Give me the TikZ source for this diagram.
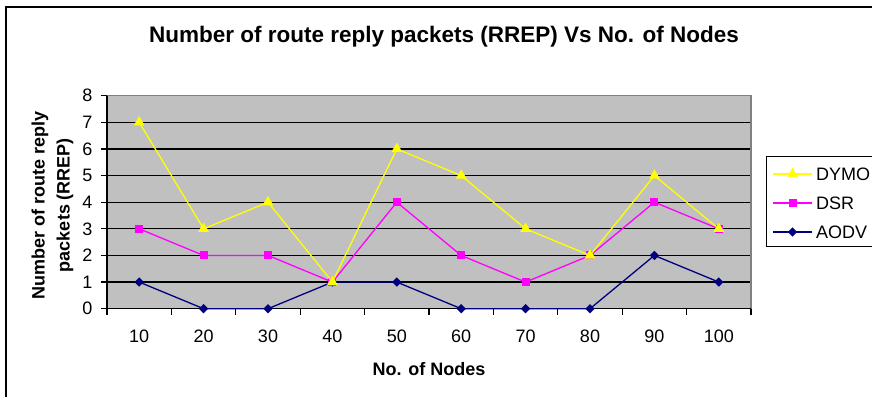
\documentclass[tikz,border=0pt]{standalone}
\usepackage{fontspec}
\setmainfont{Liberation Sans}
\usetikzlibrary{shapes.geometric,positioning}

\definecolor{plotgray}{HTML}{C0C0C0}
\definecolor{dymocol}{HTML}{FFFF00}
\definecolor{dsrcol}{HTML}{FF00FF}
\definecolor{aodvcol}{HTML}{000080}

\tikzset{
  dymoline/.style={dymocol, line width=1.3pt},
  dsrline/.style={dsrcol, line width=1.3pt},
  aodvline/.style={aodvcol, line width=1.3pt},
  dymomark/.style={regular polygon, regular polygon sides=3, fill=dymocol, inner sep=0pt, minimum size=12.5pt},
  dsrmark/.style={rectangle, fill=dsrcol, inner sep=0pt, minimum size=8pt},
  aodvmark/.style={diamond, fill=aodvcol, inner sep=0pt, minimum size=9.5pt},
  gridline/.style={black, line width=1.3pt},
  axisline/.style={black, line width=1.2pt},
  axistitle/.style={font=\bfseries\fontsize{18}{22}\selectfont},
}

\begin{document}
\begin{tikzpicture}[x=1pt, y=-1pt, every node/.style={font=\fontsize{18}{22}\selectfont}]
\useasboundingbox (0,0) rectangle (872,396);
\clip (0,0) rectangle (872,396);

% chart frame and title
\draw[line width=2pt] (6,400) |- (880,7);
\node[font=\bfseries\fontsize{22.5}{26}\selectfont] (title) at (444,37) {Number of route reply packets (RREP) Vs No. of Nodes};

% plot area: one x unit per category, one y unit per packet
\begin{scope}[shift={(107pt,-308.7pt)}, x=64.4pt, y=26.625pt]
  \fill[plotgray] (0,0) rectangle (10,8);
  \foreach \v in {1,...,7}
    \draw[gridline] (0,\v) -- (10,\v);
  \draw[gray, line width=1.3pt] (0,8) -- (10,8) -- (10,0);
  \draw[axisline] (0,8) -- (0,0) -- (10,0);
  \foreach \v in {0,...,8}
    \draw[axisline] (0,\v) -- ++(-6pt,0) node[anchor=east, inner sep=0pt, xshift=-8pt] (ylab-\v) {\v};
  \foreach \k in {0,...,10}
    \draw[axisline] (\k,0) -- ++(0,-6pt);
  \foreach \n [count=\i] in {10,20,...,100}
    \node[yshift=-28pt] (xlab-\i) at (\i-0.5,0) {\n};

  % series
  \foreach \name/\vals in {aodv/{1,0,0,1,1,0,0,0,2,1},
                           dsr/{3,2,2,1,4,2,1,2,4,3},
                           dymo/{7,3,4,1,6,5,3,2,5,3}} {
    \foreach \v [count=\i] in \vals
      \coordinate (\name-\i) at (\i-0.5,\v);
    \draw[\name line, line join=round] (\name-1) \foreach \i in {2,...,10} {-- (\name-\i)};
    \foreach \i in {1,...,10}
      \node[\name mark] (\name-m\i) at (\name-\i) {};
  }
\end{scope}

% axis titles
\node[axistitle] (xtitle) at (429,369) {No. of Nodes};
\node[axistitle, rotate=90] (ytitle-a) at (40,205) {Number of route reply};
\node[axistitle, rotate=90] (ytitle-b) at (65,205) {packets (RREP)};

% legend
\draw[line width=0.8pt] (766,156) rectangle (885,246);
\foreach \name/\lab/\yy in {dymo/DYMO/174, dsr/DSR/203, aodv/AODV/232} {
  \coordinate (key-\name-a) at (773,\yy);
  \coordinate (key-\name-b) at (812,\yy);
  \draw[\name line] (key-\name-a) -- (key-\name-b);
  \node[\name mark] (key-\name) at (792.5,\yy) {};
  \node[anchor=west, inner sep=0pt] (keylab-\name) at (816,\yy) {\lab};
}
\end{tikzpicture}
\end{document}
